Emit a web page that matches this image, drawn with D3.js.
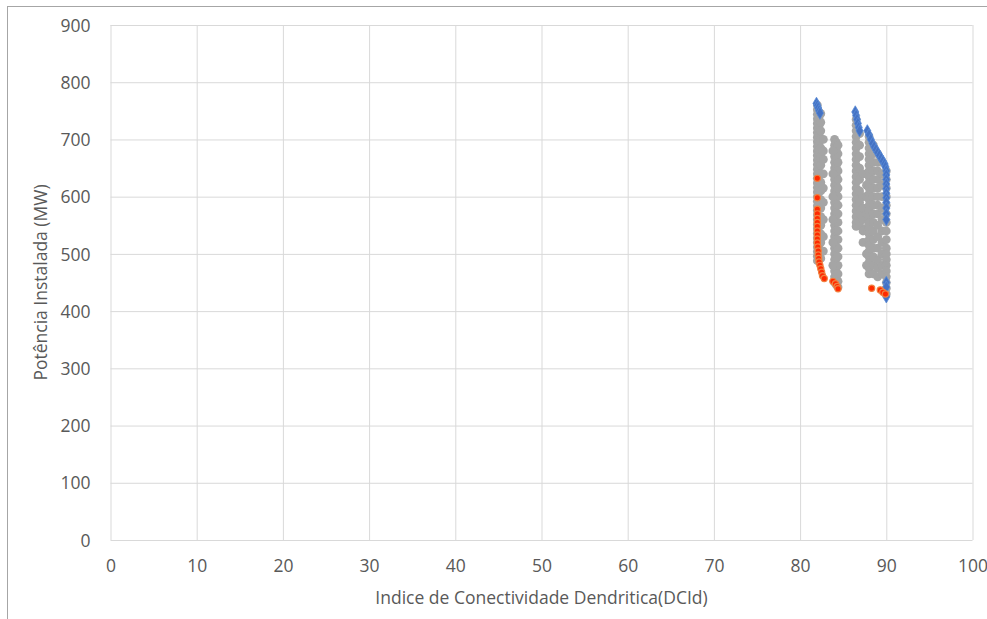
<!DOCTYPE html>
<html><head><meta charset="utf-8">
<script src="https://cdn.jsdelivr.net/npm/d3@7"></script>
<style>body{margin:0;background:#fff}svg{display:block}text{font-family:"Open Sans",Calibri,sans-serif}</style>
</head><body><svg id="c" width="987" height="619"></svg>
<script>
const xTicks = [0,10,20,30,40,50,60,70,80,90,100];
const yTicks = [0,100,200,300,400,500,600,700,800,900];
const xTitle = "Indice de Conectividade Dendritica(DCId)";
const yTitle = "Potência Instalada (MW)";

// gray series: [x, y]
const grayPts = [
 [82.0,760],[82.0,752],[82.0,744],[82.0,736],[82.0,728],[82.0,720],[82.0,712],[82.0,704],[82.0,696],[82.0,688],[82.0,680],[82.0,672],[82.0,664],[82.0,656],[82.0,648],[82.0,640],[82.0,632],[82.0,624],[82.0,616],[82.0,608],[82.0,600],[82.0,592],[82.0,584],[82.0,576],[82.0,568],[82.0,560],[82.0,552],[82.0,544],[82.0,536],[82.0,528],[82.0,520],[82.0,512],[82.0,504],[82.0,496],[82.0,488],
 [82.2,748],[82.2,738],[82.2,724],[82.2,708],[82.2,692],[82.2,676],[82.2,660],[82.2,644],[82.2,628],[82.2,612],[82.2,596],[82.2,580],[82.2,564],[82.2,548],[82.2,532],[82.2,516],[82.2,500],
 [82.4,745],[82.4,730],[82.4,715],[82.4,700],[82.4,685],[82.4,670],[82.4,655],[82.4,640],[82.4,625],[82.4,610],[82.4,595],[82.4,580],[82.4,565],[82.4,550],[82.4,535],[82.4,520],[82.4,505],[82.4,492],
 [82.7,700],[82.7,680],[82.7,665],[82.7,640],[82.7,615],[82.7,590],[82.7,560],[82.7,530],[82.7,505],
 [84.0,700],[84.0,690],[84.0,680],[84.0,670],[84.0,660],[84.0,650],[84.0,640],[84.0,630],[84.0,620],[84.0,610],[84.0,600],[84.0,590],[84.0,580],[84.0,570],[84.0,560],[84.0,550],[84.0,540],[84.0,530],[84.0,520],[84.0,510],[84.0,500],[84.0,490],[84.0,480],[84.0,470],[84.0,460],[84.0,450],
 [84.2,695],[84.2,682],[84.2,668],[84.2,652],[84.2,636],[84.2,620],[84.2,604],[84.2,588],[84.2,572],[84.2,556],[84.2,540],[84.2,524],[84.2,508],[84.2,492],[84.2,476],[84.2,460],[84.2,446],
 [84.4,690],[84.4,675],[84.4,660],[84.4,645],[84.4,630],[84.4,615],[84.4,600],[84.4,585],[84.4,570],[84.4,555],[84.4,540],[84.4,525],[84.4,510],[84.4,495],[84.4,480],[84.4,465],[84.4,452],[84.4,442],
 [83.8,680],[83.8,640],[83.8,600],[83.8,560],[83.8,520],[83.8,480],
 [86.5,735],[86.5,725],[86.5,715],[86.5,705],[86.5,695],[86.5,685],[86.5,675],[86.5,665],[86.5,655],[86.5,645],[86.5,635],[86.5,625],[86.5,615],[86.5,605],[86.5,595],[86.5,585],[86.5,575],[86.5,565],[86.5,555],[86.5,548],
 [86.9,710],[86.9,690],[86.9,670],[86.9,650],[86.9,630],[86.9,610],[86.9,590],[86.9,570],[86.9,550],
 [87.3,640],[87.3,600],[87.3,580],[87.3,560],[87.3,540],[87.3,520],
 [87.7,620],[87.7,600],[87.7,570],[87.7,545],[87.7,520],[87.7,500],[87.7,480],
 [88.0,705],[88.0,695],[88.0,685],[88.0,675],[88.0,665],[88.0,655],[88.0,645],[88.0,635],[88.0,625],[88.0,615],[88.0,605],[88.0,595],[88.0,585],[88.0,575],[88.0,565],[88.0,555],[88.0,545],[88.0,535],[88.0,525],[88.0,515],[88.0,505],[88.0,495],[88.0,485],[88.0,475],[88.0,465],
 [88.5,690],[88.5,675],[88.5,660],[88.5,645],[88.5,630],[88.5,615],[88.5,600],[88.5,585],[88.5,570],[88.5,555],[88.5,540],[88.5,525],[88.5,510],[88.5,495],[88.5,480],[88.5,465],
 [89.0,675],[89.0,660],[89.0,645],[89.0,630],[89.0,615],[89.0,600],[89.0,585],[89.0,570],[89.0,550],[89.0,530],[89.0,510],[89.0,490],[89.0,475],[89.0,460],
 [89.5,660],[89.5,640],[89.5,620],[89.5,600],[89.5,580],[89.5,560],[89.5,540],[89.5,520],[89.5,500],[89.5,480],[89.5,465],
 [90.0,645],[90.0,630],[90.0,615],[90.0,600],[90.0,585],[90.0,570],[90.0,555],[90.0,540],[90.0,525],[90.0,510],[90.0,500],[90.0,490],[90.0,480],[90.0,470],[90.0,460],[90.0,450],[90.0,440],[90.0,430]
];
const bluePts = [
 [81.9,763],[82.0,759],[82.1,755],[82.2,750],[82.3,746],
 [86.4,748],[86.5,742],[86.6,735],[86.7,728],[86.8,721],[86.9,715],
 [87.8,715],[88.0,708],[88.2,700],[88.4,693],[88.6,687],[88.8,682],[89.0,677],[89.2,672],[89.4,667],[89.6,662],[89.8,657],[89.9,652],
 [90.0,645],[90.0,638],[90.0,630],[90.0,622],[90.0,614],[90.0,606],[90.0,598],[90.0,590],[90.0,580],[90.0,570],[90.0,560],
 [90.0,450],[90.0,442],[90.0,425]
];
const redPts = [
 [82.0,632],[82.0,598],[82.0,578],[82.0,570],[82.0,562],[82.0,555],[82.0,548],[82.0,540],[82.0,533],[82.0,526],[82.0,519],[82.05,512],[82.1,505],[82.1,498],[82.15,492],[82.2,486],[82.3,480],[82.4,474],[82.5,468],[82.6,462],[82.8,457],
 [83.8,452],[84.1,448],[84.3,443],[84.4,439],
 [88.3,440],[89.3,437],[89.6,433],[89.9,430]
];

const svg = d3.select("#c");
const L = 110.5, R = 972.5, T = 25, B = 540;
const x = d3.scaleLinear().domain([0,100]).range([L,R]);
const y = d3.scaleLinear().domain([0,900]).range([B,T]);

svg.append("rect").attr("x",7.5).attr("y",6.5).attr("width",985).attr("height",620)
  .attr("fill","none").attr("stroke","#A6A6A6");

const xa = svg.append("g").attr("transform",`translate(0,${B})`)
  .call(d3.axisBottom(x).tickValues(xTicks).tickSize(-(B-T)).tickFormat(d3.format("d")));
const ya = svg.append("g").attr("transform",`translate(${L},0)`)
  .call(d3.axisLeft(y).tickValues(yTicks).tickSize(-(R-L)).tickFormat(d3.format("d")));
[xa,ya].forEach(a=>{
  a.select(".domain").remove();
  a.selectAll("line").attr("stroke","#D9D9D9").attr("stroke-width",1);
  a.selectAll("text").attr("fill","#595959").style("font-size","17.5px");
});
xa.selectAll("text").attr("dy","0").attr("y",32);
ya.selectAll("text").attr("x",-20).attr("dy","0.35em");

svg.append("g").selectAll("circle").data(grayPts).join("circle")
  .attr("cx",d=>x(d[0])).attr("cy",d=>y(d[1])).attr("r",4.4).attr("fill","#A5A5A5");
const dia = d3.symbol().type(d3.symbolDiamond).size(44);
svg.append("g").selectAll("path").data(bluePts).join("path")
  .attr("transform",d=>`translate(${x(d[0])},${y(d[1])})`).attr("d",dia)
  .attr("fill","#4472C4").attr("stroke","#5B8BD6").attr("stroke-width",0.8);
svg.append("g").selectAll("circle").data(redPts).join("circle")
  .attr("cx",d=>x(d[0])).attr("cy",d=>y(d[1])).attr("r",3.1)
  .attr("fill","#FF2A00").attr("stroke","#F08040").attr("stroke-width",1.2);

svg.append("text").attr("x",(L+R)/2).attr("y",604).attr("text-anchor","middle")
  .attr("fill","#595959").style("font-size","17.5px").text(xTitle);
svg.append("text").attr("transform",`translate(47,${(T+B)/2}) rotate(-90)`).attr("text-anchor","middle")
  .attr("fill","#595959").style("font-size","17.5px").text(yTitle);
</script></body></html>
